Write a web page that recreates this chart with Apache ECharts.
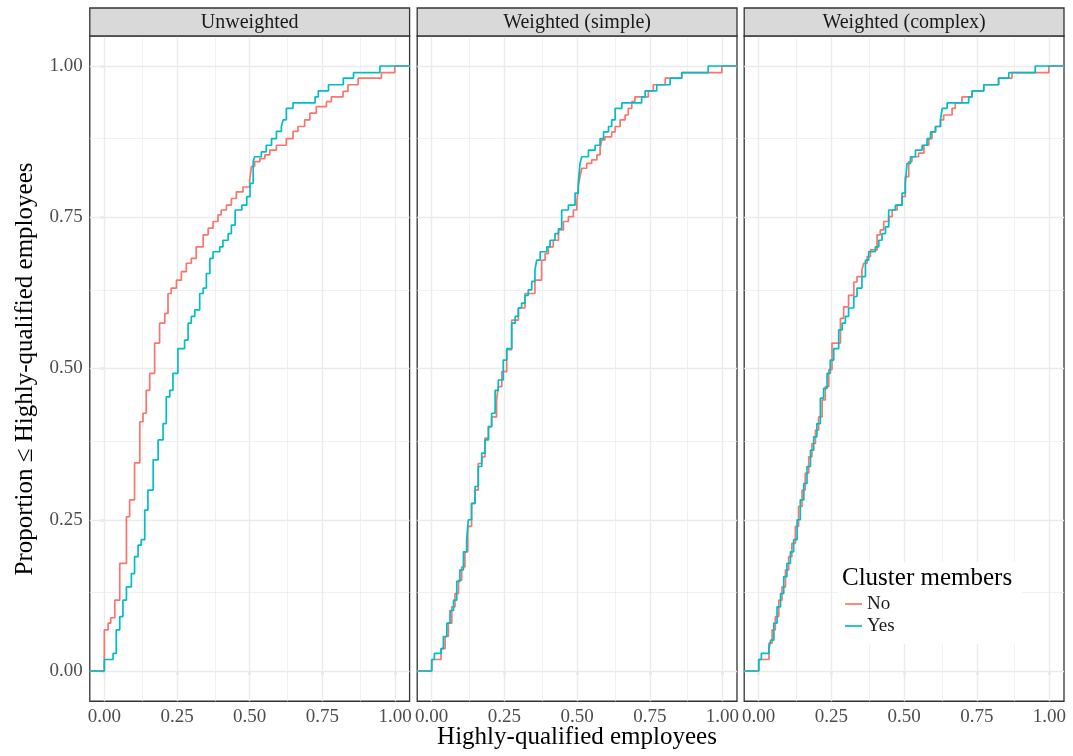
<!DOCTYPE html>
<html>
<head>
<meta charset="utf-8">
<script src="https://cdn.jsdelivr.net/npm/echarts@6/dist/echarts.min.js"></script>
<style>
html,body{margin:0;padding:0;background:#fff;}
#chart{width:1073px;height:756px;}
</style>
</head>
<body>
<div id="chart"></div>
<script>
// ---------------- data ----------------
const panels = ['Unweighted', 'Weighted (simple)', 'Weighted (complex)'];
const groups = ['No', 'Yes'];
const majorTicks = [0, 0.25, 0.5, 0.75, 1];
const minorTicks = [0.125, 0.375, 0.625, 0.875];
const xMin = -0.05, xMax = 1.05, yMin = -0.05, yMax = 1.05;

const unweightedNo = [[0,0.068],[0.013,0.079],[0.022,0.088],[0.036,0.117],[0.053,0.178],[0.076,0.255],[0.087,0.283],[0.104,0.344],[0.122,0.412],[0.133,0.426],[0.144,0.464],[0.156,0.492],[0.173,0.542],[0.19,0.575],[0.208,0.591],[0.219,0.624],[0.23,0.633],[0.248,0.646],[0.265,0.66],[0.282,0.674],[0.299,0.682],[0.316,0.701],[0.34,0.721],[0.357,0.732],[0.374,0.743],[0.391,0.754],[0.402,0.762],[0.42,0.77],[0.437,0.781],[0.454,0.792],[0.477,0.8],[0.5,0.812],[0.506,0.834],[0.517,0.842],[0.535,0.847],[0.552,0.853],[0.569,0.861],[0.592,0.869],[0.626,0.88],[0.649,0.892],[0.666,0.9],[0.689,0.911],[0.707,0.922],[0.729,0.933],[0.764,0.941],[0.781,0.949],[0.821,0.958],[0.838,0.969],[0.873,0.98],[0.953,0.989],[0.999,1.0]];
const unweightedYes = [[0,0.019],[0.03,0.029],[0.041,0.068],[0.053,0.09],[0.064,0.117],[0.076,0.139],[0.093,0.161],[0.104,0.189],[0.116,0.208],[0.127,0.217],[0.139,0.266],[0.15,0.299],[0.168,0.349],[0.185,0.382],[0.202,0.409],[0.213,0.453],[0.225,0.464],[0.236,0.492],[0.253,0.533],[0.276,0.547],[0.288,0.575],[0.299,0.586],[0.311,0.597],[0.328,0.624],[0.34,0.633],[0.351,0.657],[0.363,0.682],[0.374,0.693],[0.397,0.701],[0.408,0.712],[0.426,0.723],[0.437,0.737],[0.45,0.762],[0.473,0.77],[0.49,0.784],[0.501,0.806],[0.512,0.842],[0.517,0.85],[0.54,0.858],[0.557,0.869],[0.575,0.88],[0.592,0.892],[0.609,0.9],[0.615,0.911],[0.626,0.93],[0.649,0.939],[0.725,0.949],[0.736,0.959],[0.771,0.969],[0.822,0.98],[0.857,0.989],[0.948,1.0]];
const simpleNo = [[0,0.019],[0.032,0.037],[0.046,0.057],[0.057,0.079],[0.069,0.106],[0.08,0.128],[0.092,0.15],[0.103,0.172],[0.114,0.197],[0.124,0.239],[0.137,0.277],[0.149,0.299],[0.16,0.343],[0.172,0.354],[0.183,0.385],[0.195,0.404],[0.206,0.42],[0.223,0.448],[0.229,0.47],[0.241,0.495],[0.258,0.531],[0.275,0.58],[0.298,0.6],[0.321,0.624],[0.355,0.646],[0.378,0.679],[0.39,0.69],[0.401,0.701],[0.418,0.712],[0.436,0.729],[0.453,0.743],[0.47,0.751],[0.487,0.762],[0.499,0.773],[0.504,0.801],[0.51,0.817],[0.516,0.831],[0.533,0.839],[0.55,0.845],[0.568,0.853],[0.579,0.864],[0.585,0.878],[0.596,0.883],[0.619,0.891],[0.631,0.9],[0.648,0.911],[0.665,0.919],[0.676,0.93],[0.688,0.941],[0.699,0.949],[0.745,0.959],[0.762,0.969],[0.803,0.98],[0.86,0.989],[0.998,1.0]];
const simpleYes = [[0,0.019],[0.009,0.029],[0.032,0.037],[0.04,0.057],[0.052,0.079],[0.063,0.1],[0.075,0.117],[0.086,0.148],[0.097,0.167],[0.109,0.197],[0.12,0.217],[0.126,0.25],[0.137,0.277],[0.149,0.305],[0.16,0.338],[0.172,0.36],[0.183,0.382],[0.195,0.404],[0.206,0.426],[0.218,0.464],[0.229,0.481],[0.246,0.514],[0.258,0.533],[0.275,0.575],[0.287,0.586],[0.298,0.6],[0.309,0.608],[0.321,0.621],[0.332,0.63],[0.344,0.644],[0.355,0.663],[0.361,0.679],[0.373,0.693],[0.396,0.701],[0.407,0.712],[0.424,0.723],[0.436,0.731],[0.447,0.762],[0.47,0.77],[0.493,0.79],[0.504,0.806],[0.51,0.839],[0.516,0.85],[0.539,0.861],[0.562,0.869],[0.579,0.88],[0.591,0.891],[0.608,0.9],[0.619,0.911],[0.631,0.93],[0.654,0.939],[0.722,0.949],[0.734,0.959],[0.774,0.969],[0.82,0.98],[0.86,0.989],[0.951,1.0]];
const complexNo = [[0,0.019],[0.035,0.046],[0.046,0.068],[0.057,0.09],[0.069,0.117],[0.08,0.139],[0.092,0.167],[0.103,0.189],[0.114,0.211],[0.126,0.239],[0.137,0.272],[0.149,0.299],[0.16,0.327],[0.172,0.354],[0.183,0.376],[0.195,0.398],[0.206,0.42],[0.218,0.448],[0.229,0.47],[0.241,0.498],[0.252,0.542],[0.281,0.583],[0.292,0.602],[0.309,0.621],[0.327,0.643],[0.338,0.652],[0.355,0.663],[0.361,0.674],[0.373,0.685],[0.384,0.696],[0.407,0.721],[0.418,0.729],[0.43,0.743],[0.447,0.751],[0.459,0.762],[0.476,0.77],[0.493,0.784],[0.504,0.817],[0.516,0.842],[0.527,0.85],[0.55,0.856],[0.568,0.869],[0.585,0.88],[0.596,0.891],[0.608,0.9],[0.625,0.911],[0.636,0.919],[0.665,0.93],[0.676,0.939],[0.699,0.949],[0.734,0.959],[0.774,0.969],[0.825,0.98],[0.871,0.989],[0.998,1.0]];
const complexYes = [[0,0.019],[0.009,0.029],[0.035,0.037],[0.041,0.051],[0.052,0.079],[0.063,0.106],[0.075,0.128],[0.086,0.156],[0.097,0.178],[0.109,0.197],[0.12,0.217],[0.132,0.25],[0.143,0.283],[0.155,0.31],[0.166,0.338],[0.178,0.365],[0.189,0.387],[0.2,0.409],[0.212,0.451],[0.223,0.467],[0.235,0.492],[0.246,0.514],[0.258,0.533],[0.275,0.564],[0.287,0.575],[0.298,0.586],[0.309,0.6],[0.327,0.619],[0.338,0.633],[0.355,0.652],[0.367,0.679],[0.378,0.693],[0.401,0.701],[0.413,0.712],[0.424,0.723],[0.436,0.734],[0.447,0.762],[0.47,0.77],[0.493,0.79],[0.504,0.806],[0.51,0.839],[0.522,0.85],[0.539,0.861],[0.562,0.869],[0.579,0.88],[0.591,0.891],[0.608,0.9],[0.625,0.911],[0.631,0.93],[0.648,0.939],[0.722,0.949],[0.734,0.959],[0.774,0.969],[0.825,0.98],[0.86,0.989],[0.951,1.0]];

const panelData = [[unweightedNo, unweightedYes], [simpleNo, simpleYes], [complexNo, complexYes]];

// ---------------- layout / style ----------------
const FONT = '"Liberation Serif", "Times New Roman", serif';
const colors = ['#F8766D', '#00BFC4'];
const gridLefts = [89.8, 417.2, 744.2];
const gridWidth = 319.8;
const gridTop = 35.75;
const gridHeight = 665.5;

function pad(arr) { return [[xMin, 0]].concat(arr, [[xMax, 1]]); }

const grids = [], xAxes = [], yAxes = [], series = [], graphics = [];

function gridLineData() {
  const d = [];
  minorTicks.forEach(v => { d.push({xAxis: v, lineStyle: {width: 0.7}}); d.push({yAxis: v, lineStyle: {width: 0.7}}); });
  majorTicks.forEach(v => { d.push({xAxis: v, lineStyle: {width: 1.4}}); d.push({yAxis: v, lineStyle: {width: 1.4}}); });
  return d;
}

panels.forEach((title, i) => {
  grids.push({
    left: gridLefts[i], top: gridTop, width: gridWidth, height: gridHeight,
    show: true, backgroundColor: '#fff', borderColor: '#333', borderWidth: 1.3
  });
  xAxes.push({
    type: 'value', gridIndex: i, min: xMin, max: xMax,
    axisLine: {show: false},
    splitLine: {show: false},
    axisTick: {show: true, length: 4, customValues: majorTicks, lineStyle: {color: '#333', width: 1.2}},
    axisLabel: {show: true, customValues: majorTicks, margin: 6, formatter: v => v.toFixed(2),
      fontFamily: FONT, fontSize: 19, color: '#4D4D4D'}
  });
  yAxes.push({
    type: 'value', gridIndex: i, min: yMin, max: yMax,
    axisLine: {show: false},
    splitLine: {show: false},
    axisTick: {show: i === 0, length: 4, customValues: majorTicks, lineStyle: {color: '#333', width: 1.2}},
    axisLabel: {show: i === 0, customValues: majorTicks, margin: 7, formatter: v => v.toFixed(2),
      fontFamily: FONT, fontSize: 19, color: '#4D4D4D'}
  });
  // background grid lines
  series.push({
    type: 'line', xAxisIndex: i, yAxisIndex: i, data: [], silent: true, z: 1,
    markLine: {silent: true, z: 1, symbol: ['none', 'none'], label: {show: false},
      lineStyle: {color: '#EBEBEB', type: 'solid'}, animation: false, data: gridLineData()}
  });
  groups.forEach((g, k) => {
    series.push({
      name: g, type: 'line', xAxisIndex: i, yAxisIndex: i, step: 'end',
      symbol: 'none', z: 10 + k, data: pad(panelData[i][k]),
      lineStyle: {color: colors[k], width: 1.7}, itemStyle: {color: colors[k]}
    });
  });
  // strip
  graphics.push({
    type: 'rect', z: 50,
    shape: {x: gridLefts[i], y: 8, width: gridWidth, height: 28},
    style: {fill: '#D9D9D9', stroke: '#333', lineWidth: 1.3}
  });
  graphics.push({
    type: 'text', z: 51, x: gridLefts[i] + gridWidth / 2, y: 22.5,
    style: {text: title, align: 'center', verticalAlign: 'middle', fontFamily: FONT, fontSize: 20, fill: '#1A1A1A'}
  });
});

// axis titles
graphics.push({
  type: 'text', z: 51, x: 577, y: 737,
  style: {text: 'Highly-qualified employees', align: 'center', verticalAlign: 'middle', fontFamily: FONT, fontSize: 25, fill: '#000'}
});
graphics.push({
  type: 'text', z: 51, x: 25, y: 369, rotation: Math.PI / 2,
  style: {text: 'Proportion \u2264 Highly-qualified employees', align: 'center', verticalAlign: 'middle', fontFamily: FONT, fontSize: 25, fill: '#000'}
});
// legend box + title
graphics.push({
  type: 'rect', z: 50, shape: {x: 838, y: 562, width: 184, height: 82}, style: {fill: '#fff'}
});
graphics.push({
  type: 'text', z: 51, x: 842, y: 578.5,
  style: {text: 'Cluster members', align: 'left', verticalAlign: 'middle', fontFamily: FONT, fontSize: 25, fill: '#000'}
});

const option = {
  animation: false,
  backgroundColor: '#fff',
  grid: grids,
  xAxis: xAxes,
  yAxis: yAxes,
  series: series,
  legend: {
    data: groups.map(g => ({name: g, icon: 'rect'})),
    orient: 'vertical', left: 845, top: 594, z: 60,
    itemWidth: 17, itemHeight: 1.7, itemGap: 2, padding: 0,
    textStyle: {fontFamily: FONT, fontSize: 19, lineHeight: 20, color: '#1A1A1A'},
    selectedMode: false
  },
  graphic: graphics
};

const chart = echarts.init(document.getElementById('chart'), null, {renderer: 'canvas'});
chart.setOption(option);
</script>
</body>
</html>
